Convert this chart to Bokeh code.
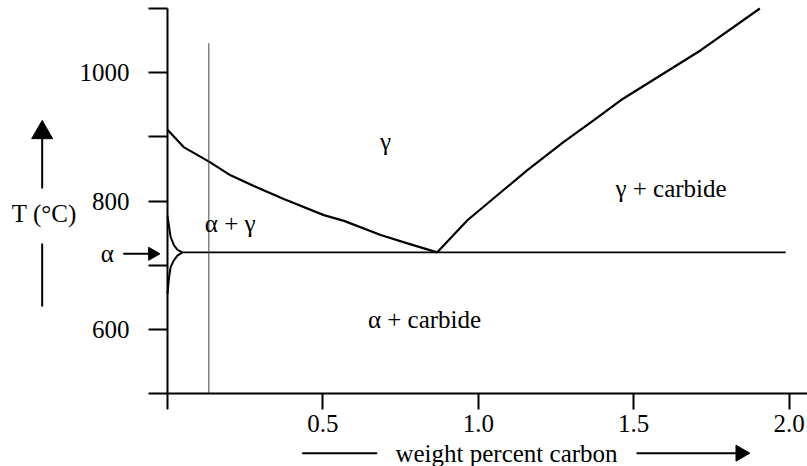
import math
from bokeh.plotting import figure
from bokeh.models import Range1d, FixedTicker, Label, PrintfTickFormatter
from bokeh.embed import file_html
from bokeh.resources import INLINE

# ---- data (wt% C, temperature in degC) ----
a3_x = [0.0, 0.052, 0.135, 0.203, 0.289, 0.374, 0.503, 0.568, 0.686, 0.772, 0.868]
a3_T = [911, 884, 861, 840, 821, 803, 778, 769, 747, 734, 720]

acm_x = [0.868, 0.965, 1.061, 1.158, 1.275, 1.372, 1.458, 1.716, 1.906]
acm_T = [720, 770, 809, 848, 892, 926, 957, 1035, 1100]

alpha_upper_x = [0.0, 0.0045, 0.010, 0.021, 0.032, 0.048]
alpha_upper_T = [777, 762, 744, 731, 724, 720]
alpha_lower_x = [0.0, 0.0045, 0.010, 0.021, 0.032, 0.048]
alpha_lower_T = [655, 679, 697, 708, 715, 720]

eutectoid_x = [0.048, 1.989]
eutectoid_T = [720, 720]

alloy_x = [0.133, 0.133]
alloy_T = [500, 1046]

x_major_ticks = [0.5, 1.0, 1.5, 2.0]
x_minor_ticks = [0.0]
y_major_ticks = [600, 800, 1000]
y_minor_ticks = [500, 700, 900, 1100]

FONT = "Liberation Serif"
FS = "25px"

# frame covers the whole canvas; axes are pinned at x = 0 and T = 500
p = figure(width=807, height=466, output_backend="svg", toolbar_location=None,
           x_range=Range1d(-0.5373, 2.0592), y_range=Range1d(386.2, 1112.5),
           min_border_left=0, min_border_right=0, min_border_top=0,
           min_border_bottom=0)
p.outline_line_color = None
p.grid.visible = False
p.background_fill_color = "white"
p.border_fill_color = "white"

for ax in (p.xaxis[0], p.yaxis[0]):
    ax.axis_line_width = 2
    ax.axis_line_color = "black"
    ax.major_tick_in = 0
    ax.minor_tick_in = 0
    ax.major_tick_line_width = 2
    ax.minor_tick_line_width = 2
    ax.major_tick_line_color = "black"
    ax.minor_tick_line_color = "black"
    ax.major_label_text_font = FONT
    ax.major_label_text_font_size = FS
    ax.major_label_text_color = "black"

p.xaxis.fixed_location = 500
p.xaxis.bounds = (0, 2.0592)
p.xaxis.ticker = FixedTicker(ticks=x_major_ticks, minor_ticks=x_minor_ticks)
p.xaxis.formatter = PrintfTickFormatter(format="%.1f")
p.xaxis.major_tick_out = 16
p.xaxis.minor_tick_out = 16
p.xaxis.major_label_standoff = 6

p.yaxis.fixed_location = 0
p.yaxis.bounds = (500, 1100)
p.yaxis.ticker = FixedTicker(ticks=y_major_ticks, minor_ticks=y_minor_ticks)
p.yaxis.major_tick_out = 19
p.yaxis.minor_tick_out = 19
p.yaxis.major_label_standoff = 19

# phase boundaries
p.line(a3_x, a3_T, line_color="black", line_width=2.2)
p.line(acm_x, acm_T, line_color="black", line_width=2.2)
p.line(alpha_upper_x, alpha_upper_T, line_color="black", line_width=2)
p.line(alpha_lower_x, alpha_lower_T, line_color="black", line_width=2)
p.line(eutectoid_x, eutectoid_T, line_color="black", line_width=1.6)
p.line(alloy_x, alloy_T, line_color="#444444", line_width=1)

def lab(x, y, t):
    p.add_layout(Label(x=x, y=y, text=t, text_font=FONT, text_font_size=FS,
                       text_color="black", text_align="center",
                       text_baseline="middle"))

lab(0.7015, 892, "γ")
lab(1.62, 819, "γ + carbide")
lab(0.2017, 765, "α + γ")
lab(0.827, 616, "α + carbide")
lab(-0.3964, 780, "T (°C)")
lab(-0.194, 718, "α")
lab(1.0907, 407, "weight percent carbon")

# arrow shafts and guide lines
p.segment(x0=[-0.4032, -0.4032, -0.1425, 0.4334, 1.509],
          y0=[819.5, 733.8, 717.7, 407, 407],
          x1=[-0.4032, -0.4032, -0.030, 0.6747, 1.860],
          y1=[915, 635.6, 717.7, 407, 407],
          line_color="black", line_width=2)
# arrow heads
p.scatter(x=[-0.4032], y=[906.6], marker="triangle", size=21,
          fill_color="black", line_color="black", angle=0)
p.scatter(x=[-0.0486], y=[717.7], marker="triangle", size=13,
          fill_color="black", line_color="black", angle=-math.pi / 2)
p.scatter(x=[1.844], y=[407], marker="triangle", size=16,
          fill_color="black", line_color="black", angle=-math.pi / 2)

open("out.html", "w").write(file_html(p, INLINE))
